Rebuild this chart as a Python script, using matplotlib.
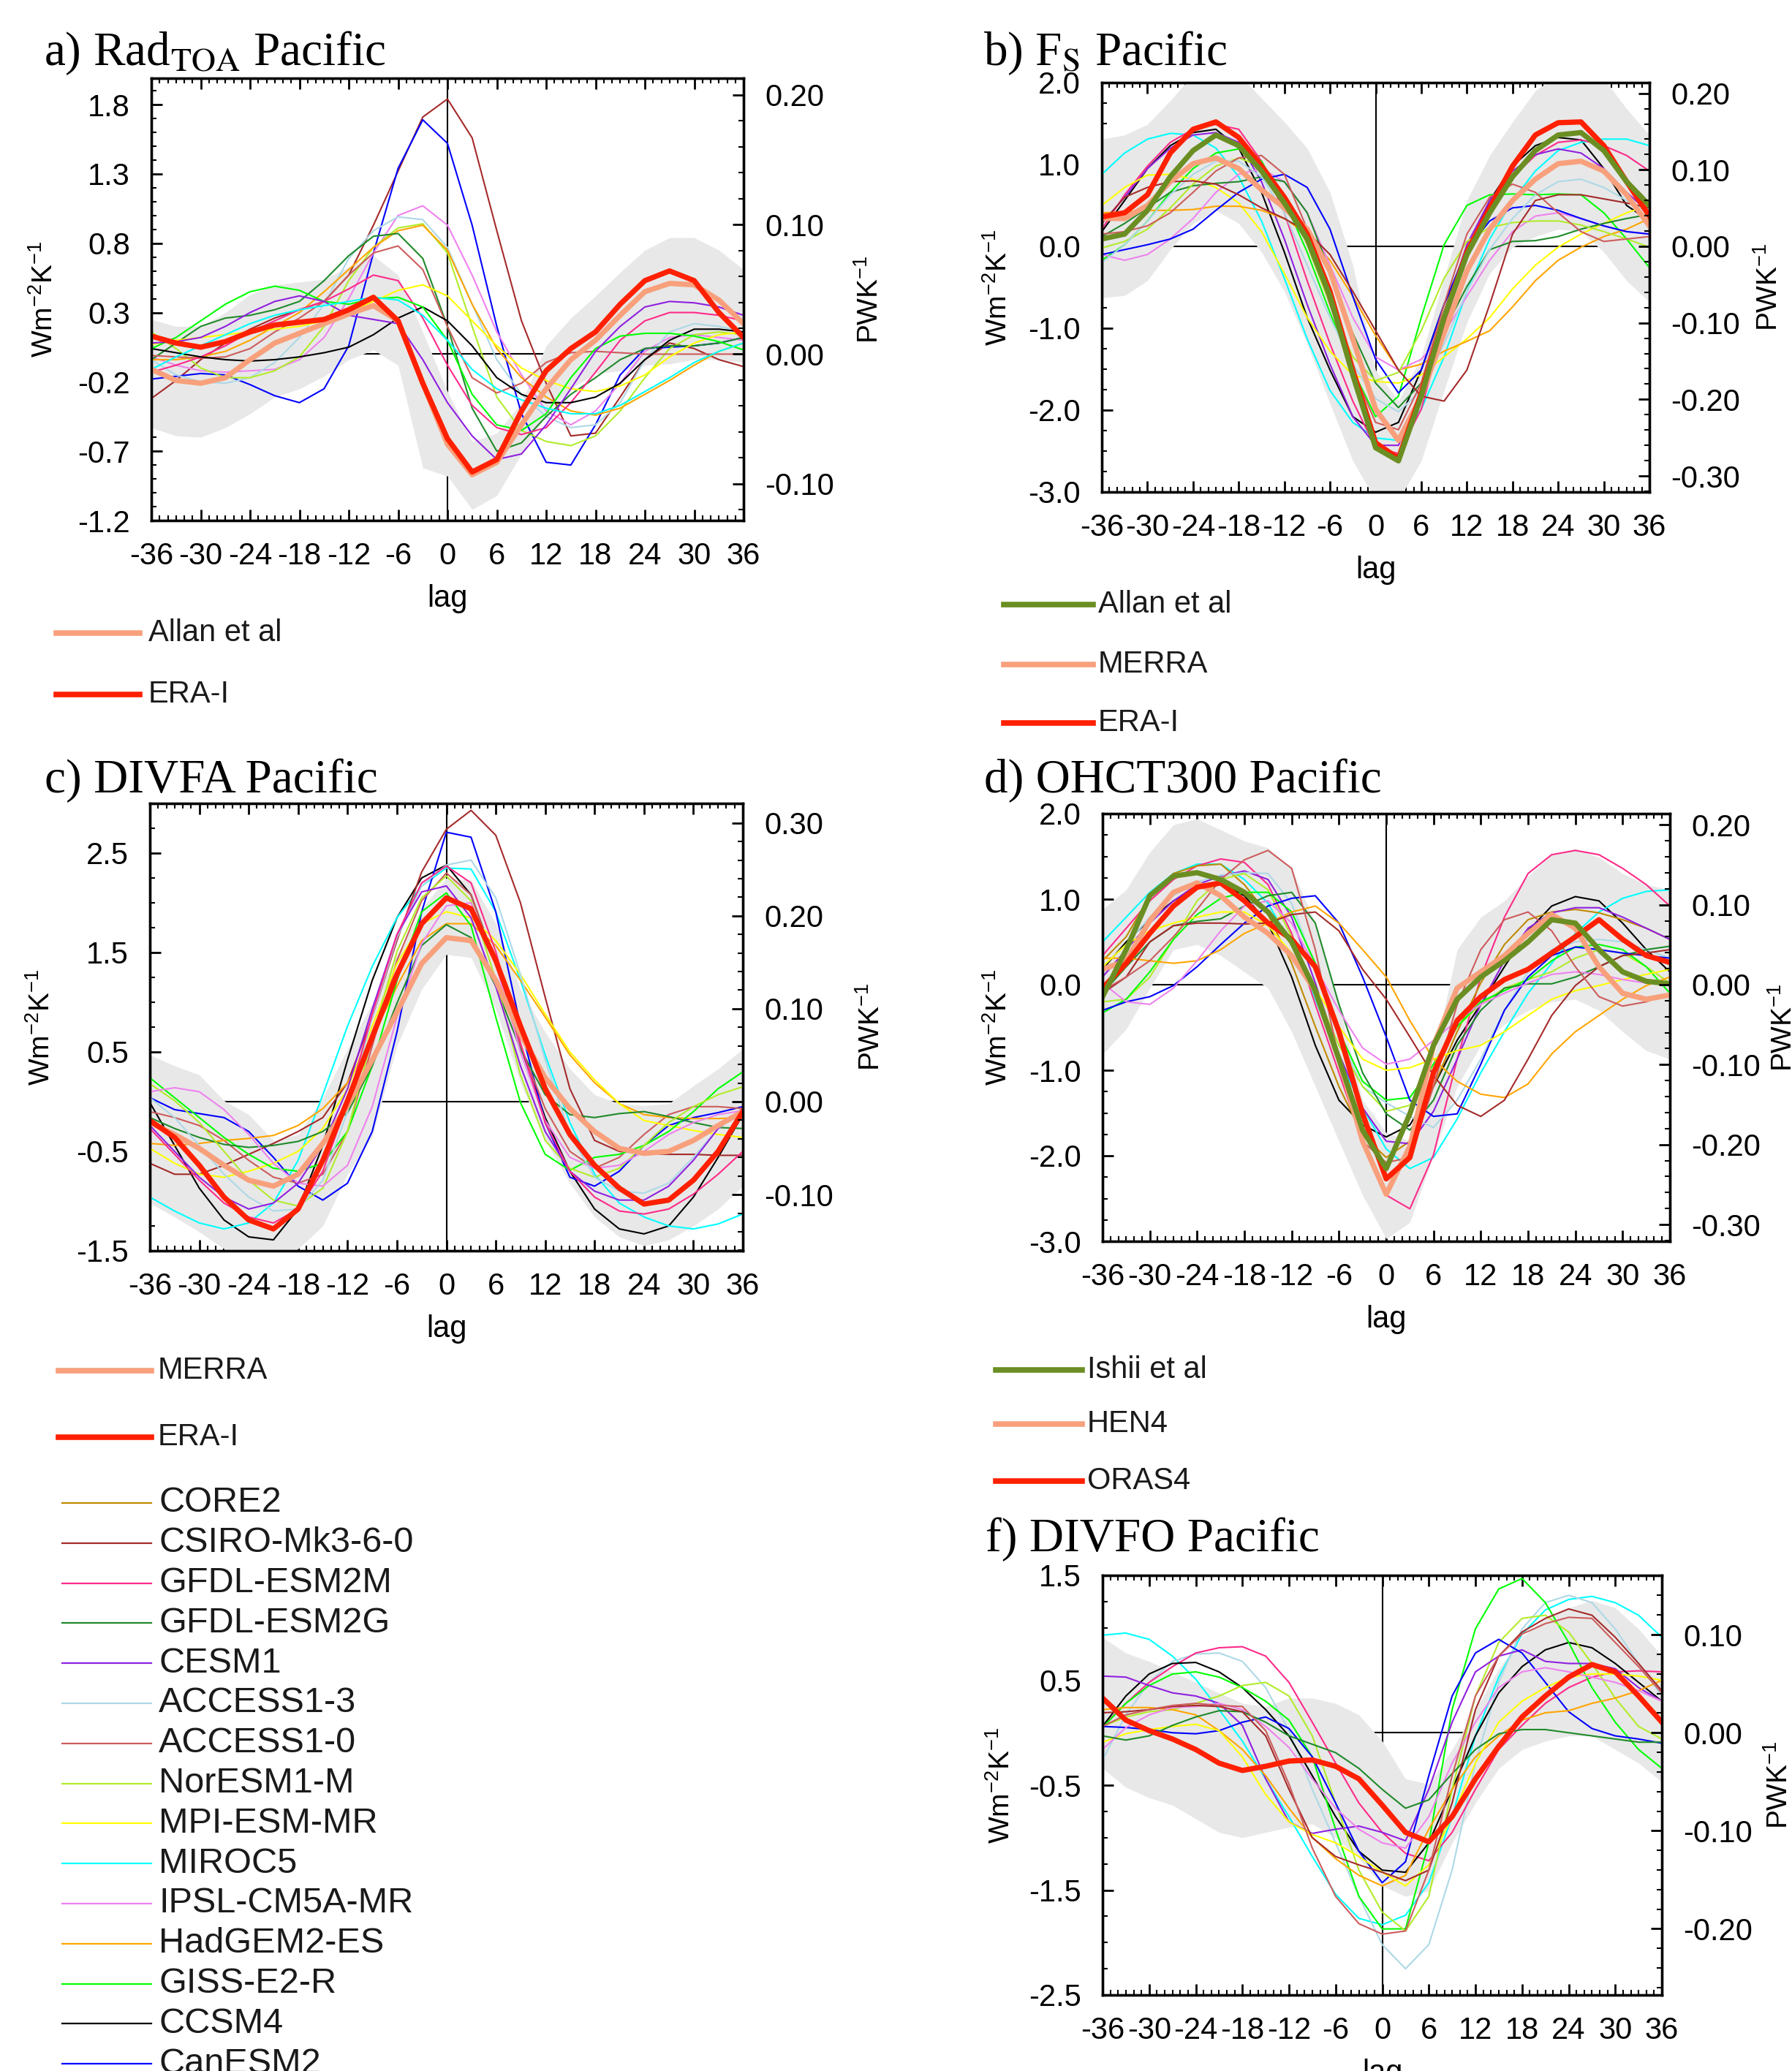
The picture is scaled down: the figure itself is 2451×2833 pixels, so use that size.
import numpy as np
import matplotlib
matplotlib.use("Agg")
import matplotlib.pyplot as plt
from matplotlib.lines import Line2D
from matplotlib.ticker import MultipleLocator, FormatStrFormatter

plt.rcParams['font.family'] = ['Liberation Sans', 'DejaVu Sans']
plt.rcParams['mathtext.fontset'] = 'custom'
plt.rcParams['mathtext.rm'] = 'Liberation Sans'
plt.rcParams['mathtext.it'] = 'Liberation Sans:italic'
plt.rcParams['mathtext.bf'] = 'Liberation Sans:bold'
plt.rcParams['axes.unicode_minus'] = False

W, H = 2451, 2833

# lag axis (months), values read every 3 months
lags = np.arange(-36, 37, 3)

model_names = ["CORE2", "CSIRO-Mk3-6-0", "GFDL-ESM2M", "GFDL-ESM2G", "CESM1",
               "ACCESS1-3", "ACCESS1-0", "NorESM1-M", "MPI-ESM-MR", "MIROC5",
               "IPSL-CM5A-MR", "HadGEM2-ES", "GISS-E2-R", "CCSM4", "CanESM2"]
model_colors = {"CORE2": "#c08a00", "CSIRO-Mk3-6-0": "#a52a2a", "GFDL-ESM2M": "#ff2a8a",
                "GFDL-ESM2G": "#1f8a2a", "CESM1": "#9020e0", "ACCESS1-3": "#add8e6",
                "ACCESS1-0": "#cd5c5c", "NorESM1-M": "#b2ec2a", "MPI-ESM-MR": "#ffff00",
                "MIROC5": "#00ffff", "IPSL-CM5A-MR": "#ee82ee", "HadGEM2-ES": "#ffa500",
                "GISS-E2-R": "#00ff00", "CCSM4": "#000000", "CanESM2": "#0000ff"}

red = "#ff2000"
salmon = "#f8a07c"
olive = "#6b8e23"
band_color = "#e8e8e8"

# ---------------- a) Rad_TOA ----------------
rad_era = [0.13,0.08,0.05,0.09,0.16,0.21,0.23,0.25,0.32,0.41,0.24,-0.21,-0.61,-0.85,-0.76,-0.41,-0.12,0.04,0.16,0.36,0.53,0.60,0.53,0.30,0.12]
rad_allan = [-0.11,-0.19,-0.21,-0.17,-0.04,0.08,0.15,0.22,0.29,0.35,0.24,-0.21,-0.65,-0.87,-0.78,-0.51,-0.25,-0.04,0.10,0.28,0.45,0.51,0.50,0.39,0.22]
rad_hi = [0.25,0.20,0.20,0.30,0.43,0.50,0.52,0.54,0.63,0.71,0.57,0.16,-0.27,-0.63,-0.57,-0.35,0.06,0.26,0.42,0.59,0.75,0.84,0.84,0.75,0.61]
rad_lo = [-0.53,-0.59,-0.60,-0.53,-0.43,-0.31,-0.25,-0.16,-0.04,0.03,-0.08,-0.82,-0.88,-1.12,-1.02,-0.72,-0.43,-0.25,-0.14,-0.12,-0.08,-0.07,-0.04,-0.04,-0.06]
rad_models = {
    "CSIRO-Mk3-6-0": [-0.32,-0.19,-0.04,0.08,0.18,0.26,0.32,0.38,0.57,0.93,1.32,1.71,1.84,1.56,0.89,0.24,-0.21,-0.59,-0.57,-0.31,-0.04,0.08,0.04,-0.04,-0.09],
    "CanESM2": [-0.18,-0.16,-0.14,-0.15,-0.22,-0.30,-0.35,-0.25,0.06,0.73,1.34,1.69,1.52,0.93,0.20,-0.43,-0.78,-0.80,-0.51,-0.15,0.04,0.05,0.06,0.08,0.12],
    "IPSL-CM5A-MR": [-0.02,-0.08,-0.12,-0.13,-0.12,-0.11,-0.04,0.12,0.40,0.73,1.0,1.07,0.93,0.57,0.16,-0.15,-0.41,-0.51,-0.41,-0.21,0.02,0.12,0.14,0.12,0.10],
    "ACCESS1-3": [-0.04,-0.15,-0.20,-0.21,-0.17,-0.06,0.12,0.36,0.69,0.89,0.99,0.97,0.77,0.36,-0.04,-0.29,-0.45,-0.53,-0.51,-0.35,-0.04,0.16,0.22,0.20,0.16],
    "NorESM1-M": [0.16,0.04,-0.10,-0.17,-0.17,-0.12,-0.02,0.20,0.53,0.77,0.91,0.94,0.73,0.20,-0.31,-0.55,-0.63,-0.66,-0.59,-0.41,-0.17,0.04,0.14,0.16,0.14],
    "HadGEM2-ES": [-0.04,-0.04,-0.02,0.02,0.10,0.20,0.30,0.45,0.61,0.77,0.89,0.93,0.75,0.36,0.04,-0.17,-0.31,-0.41,-0.44,-0.39,-0.29,-0.19,-0.08,0.02,0.08],
    "GFDL-ESM2G": [-0.04,0.08,0.20,0.26,0.28,0.32,0.38,0.53,0.71,0.85,0.87,0.69,0.20,-0.39,-0.70,-0.64,-0.45,-0.29,-0.17,-0.04,0.04,0.06,0.06,0.08,0.12],
    "ACCESS1-0": [-0.01,-0.02,-0.03,-0.02,0.04,0.16,0.26,0.38,0.57,0.73,0.78,0.61,0.20,-0.17,-0.28,-0.21,-0.06,0.01,0.02,0.01,0.0,0.0,0.0,0.0,0.0],
    "GFDL-ESM2M": [-0.13,-0.08,-0.02,0.06,0.16,0.24,0.32,0.38,0.47,0.57,0.53,0.26,-0.08,-0.37,-0.53,-0.58,-0.53,-0.35,-0.13,0.10,0.24,0.30,0.30,0.28,0.24],
    "MPI-ESM-MR": [0.07,0.10,0.12,0.14,0.16,0.18,0.20,0.24,0.30,0.38,0.46,0.50,0.42,0.24,0.06,-0.10,-0.19,-0.25,-0.27,-0.23,-0.15,-0.02,0.08,0.14,0.16],
    "CCSM4": [0.04,0.01,-0.02,-0.04,-0.05,-0.04,-0.02,0.01,0.05,0.14,0.26,0.34,0.24,0.06,-0.17,-0.29,-0.35,-0.35,-0.31,-0.21,-0.04,0.10,0.18,0.18,0.16],
    "GISS-E2-R": [0.04,0.12,0.24,0.36,0.45,0.49,0.46,0.38,0.36,0.40,0.41,0.34,0.10,-0.29,-0.51,-0.55,-0.43,-0.17,0.04,0.13,0.15,0.15,0.13,0.09,0.03],
    "CESM1": [0.08,0.09,0.12,0.20,0.30,0.38,0.42,0.38,0.28,0.25,0.22,-0.04,-0.35,-0.59,-0.76,-0.72,-0.51,-0.25,0.02,0.20,0.34,0.38,0.37,0.34,0.28],
    "MIROC5": [-0.11,-0.02,0.06,0.14,0.22,0.28,0.32,0.35,0.38,0.41,0.39,0.28,0.10,-0.11,-0.25,-0.33,-0.39,-0.43,-0.43,-0.37,-0.27,-0.17,-0.06,0.02,0.08],
}

# ---------------- b) F_S ----------------
fs_era = [0.36,0.41,0.63,1.14,1.43,1.52,1.33,0.98,0.60,0.15,-0.55,-1.51,-2.40,-2.59,-1.79,-0.87,-0.07,0.47,0.98,1.36,1.51,1.52,1.23,0.79,0.37]
fs_allan = [0.09,0.15,0.44,0.85,1.17,1.36,1.23,0.92,0.53,0.09,-0.61,-1.57,-2.46,-2.62,-1.83,-0.87,-0.10,0.41,0.85,1.17,1.36,1.39,1.17,0.79,0.50]
fs_merra = [0.34,0.34,0.50,0.79,1.01,1.08,0.95,0.69,0.47,0.21,-0.30,-1.13,-1.99,-2.37,-1.83,-1.06,-0.30,0.21,0.56,0.82,1.01,1.04,0.92,0.63,0.25]
fs_hi = [1.31,1.36,1.49,1.78,2.1,2.2,2.1,1.81,1.52,1.2,0.66,-0.23,-1.51,-1.89,-1.35,-0.39,0.56,1.11,1.52,1.9,2.1,2.15,2.05,1.68,1.36]
fs_lo = [-0.63,-0.60,-0.42,-0.04,0.28,0.44,0.28,-0.07,-0.55,-1.19,-1.92,-2.62,-3.1,-3.1,-2.62,-1.76,-0.93,-0.33,-0.01,0.12,0.21,0.18,-0.07,-0.42,-0.68]
fs_models = {
    "CCSM4": [0.18,0.56,0.95,1.23,1.39,1.43,1.2,0.66,-0.07,-0.87,-1.51,-2.08,-2.27,-2.15,-1.51,-0.71,-0.07,0.56,0.98,1.23,1.33,1.30,0.95,0.50,0.31],
    "MIROC5": [0.88,1.14,1.31,1.38,1.36,1.2,0.85,0.31,-0.39,-1.13,-1.76,-2.15,-2.34,-2.37,-1.99,-1.35,-0.55,0.09,0.56,0.92,1.17,1.27,1.31,1.31,1.23],
    "GFDL-ESM2M": [0.21,0.63,0.98,1.27,1.43,1.49,1.43,1.04,0.41,-0.42,-1.19,-1.89,-2.46,-2.53,-1.99,-0.97,-0.07,0.47,0.85,1.11,1.27,1.30,1.23,1.11,0.92],
    "CESM1": [0.28,0.60,0.95,1.2,1.36,1.39,1.27,0.79,0.09,-0.71,-1.44,-2.08,-2.43,-2.43,-1.83,-0.81,0.02,0.56,0.92,1.12,1.19,1.14,0.95,0.66,0.41],
    "GISS-E2-R": [-0.17,0.02,0.31,0.66,0.95,1.14,1.19,1.04,0.56,-0.07,-0.81,-1.51,-2.08,-1.83,-0.87,0.02,0.50,0.63,0.64,0.63,0.64,0.63,0.41,0.09,-0.26],
    "MPI-ESM-MR": [0.50,0.72,0.87,0.88,0.82,0.72,0.53,0.18,-0.33,-0.87,-1.28,-1.57,-1.65,-1.67,-1.57,-1.35,-1.13,-0.87,-0.52,-0.23,-0.01,0.15,0.28,0.41,0.50],
    "HadGEM2-ES": [0.41,0.42,0.44,0.44,0.45,0.49,0.49,0.44,0.34,0.15,-0.17,-0.61,-1.09,-1.51,-1.44,-1.28,-1.16,-1.03,-0.74,-0.42,-0.17,-0.01,0.12,0.21,0.34],
    "IPSL-CM5A-MR": [-0.10,-0.17,-0.10,0.09,0.34,0.66,0.88,0.95,0.79,0.41,-0.23,-0.87,-1.35,-1.51,-1.38,-1.06,-0.61,-0.17,0.18,0.37,0.41,0.34,0.25,0.18,0.15],
    "CanESM2": [-0.10,-0.04,0.02,0.09,0.21,0.44,0.66,0.82,0.88,0.72,0.21,-0.61,-1.38,-1.79,-1.51,-0.71,-0.04,0.31,0.47,0.50,0.44,0.34,0.25,0.18,0.15],
    "GFDL-ESM2G": [0.12,0.28,0.47,0.66,0.74,0.77,0.79,0.85,0.79,0.41,-0.30,-1.06,-1.67,-1.97,-1.67,-1.03,-0.49,-0.04,0.06,0.07,0.12,0.21,0.28,0.34,0.39],
    "NorESM1-M": [-0.02,0.06,0.21,0.47,0.76,0.98,1.08,0.98,0.63,0.02,-0.71,-1.35,-1.64,-1.54,-1.03,-0.39,0.06,0.23,0.29,0.31,0.31,0.26,0.18,0.09,-0.01],
    "ACCESS1-3": [-0.20,0.02,0.31,0.63,0.88,1.04,1.04,0.85,0.41,-0.23,-0.87,-1.44,-1.86,-2.02,-1.76,-1.19,-0.55,-0.04,0.34,0.63,0.79,0.82,0.72,0.56,0.41],
    "ACCESS1-0": [0.15,0.18,0.25,0.41,0.66,0.92,1.08,1.11,0.88,0.21,-0.71,-1.51,-2.15,-2.24,-1.67,-0.71,0.15,0.60,0.76,0.66,0.41,0.18,0.06,0.09,0.12],
    "CSIRO-Mk3-6-0": [0.28,0.60,0.72,0.79,0.80,0.76,0.63,0.47,0.34,0.18,-0.10,-0.55,-1.03,-1.51,-1.83,-1.89,-1.51,-0.71,0.15,0.56,0.63,0.63,0.58,0.53,0.47],
}

# ---------------- c) DIVFA ----------------
divfa_era = [-0.19,-0.36,-0.64,-0.96,-1.19,-1.28,-1.08,-0.59,0.01,0.65,1.28,1.79,2.05,1.94,1.42,0.76,0.13,-0.33,-0.64,-0.87,-1.03,-0.99,-0.79,-0.50,-0.10]
divfa_merra = [-0.21,-0.33,-0.47,-0.64,-0.79,-0.85,-0.73,-0.42,-0.04,0.42,0.90,1.39,1.65,1.62,1.22,0.68,0.24,-0.07,-0.30,-0.47,-0.52,-0.50,-0.39,-0.24,-0.10]
divfa_hi = [0.47,0.36,0.27,0.01,-0.13,-0.39,-0.33,0.04,0.53,0.99,1.48,1.94,2.25,2.23,1.79,1.13,0.70,0.33,0.07,-0.02,-0.04,-0.02,0.16,0.33,0.53]
divfa_lo = [-1.02,-1.16,-1.31,-1.48,-1.6,-1.6,-1.48,-1.25,-0.73,-0.35,0.56,1.13,1.48,1.45,0.93,0.19,-0.39,-0.82,-1.16,-1.36,-1.45,-1.39,-1.25,-1.08,-0.85]
divfa_models = {
    "CCSM4": [-0.01,-0.44,-0.87,-1.19,-1.36,-1.39,-1.08,-0.44,0.42,1.22,1.85,2.25,2.38,2.08,1.39,0.56,-0.16,-0.70,-1.08,-1.28,-1.33,-1.25,-0.96,-0.56,-0.13],
    "MIROC5": [-0.96,-1.10,-1.22,-1.28,-1.22,-1.02,-0.59,0.07,0.76,1.36,1.85,2.17,2.35,2.34,1.91,1.22,0.47,-0.21,-0.73,-1.02,-1.16,-1.25,-1.28,-1.23,-1.13],
    "CanESM2": [0.04,-0.08,-0.12,-0.16,-0.30,-0.56,-0.85,-0.99,-0.82,-0.30,0.70,1.91,2.71,2.66,1.91,0.76,-0.21,-0.76,-0.85,-0.70,-0.44,-0.24,-0.16,-0.11,-0.05],
    "CSIRO-Mk3-6-0": [-0.62,-0.73,-0.73,-0.64,-0.53,-0.42,-0.30,-0.16,0.19,0.85,1.62,2.31,2.74,2.93,2.68,2.0,1.05,0.13,-0.39,-0.50,-0.52,-0.53,-0.53,-0.54,-0.54],
    "ACCESS1-0": [-0.10,-0.16,-0.24,-0.39,-0.59,-0.76,-0.82,-0.73,-0.30,0.56,1.42,2.02,2.30,2.08,1.39,0.56,-0.07,-0.50,-0.67,-0.56,-0.33,-0.13,-0.05,-0.05,-0.07],
    "HadGEM2-ES": [-0.42,-0.44,-0.42,-0.39,-0.37,-0.34,-0.24,-0.07,0.19,0.65,1.16,1.62,1.79,1.79,1.57,1.22,0.85,0.47,0.19,-0.02,-0.13,-0.16,-0.17,-0.17,-0.16],
    "MPI-ESM-MR": [-0.47,-0.62,-0.73,-0.76,-0.70,-0.62,-0.50,-0.27,0.13,0.76,1.39,1.79,1.91,1.85,1.62,1.28,0.88,0.50,0.22,-0.02,-0.19,-0.24,-0.29,-0.33,-0.36],
    "GISS-E2-R": [0.24,0.04,-0.16,-0.36,-0.53,-0.67,-0.70,-0.62,-0.30,0.36,1.22,1.91,2.10,1.77,0.85,-0.01,-0.53,-0.69,-0.56,-0.53,-0.44,-0.30,-0.10,0.13,0.30],
    "GFDL-ESM2G": [-0.16,-0.27,-0.36,-0.43,-0.46,-0.44,-0.40,-0.30,-0.11,0.36,0.99,1.57,1.78,1.65,1.16,0.53,0.07,-0.13,-0.16,-0.12,-0.10,-0.15,-0.21,-0.26,-0.27],
    "NorESM1-M": [0.18,0.01,-0.21,-0.50,-0.79,-0.99,-1.05,-0.87,-0.30,0.65,1.51,2.05,2.27,2.02,1.22,0.27,-0.39,-0.67,-0.76,-0.67,-0.44,-0.21,-0.05,0.07,0.15],
    "IPSL-CM5A-MR": [0.10,0.14,0.10,-0.08,-0.33,-0.62,-0.82,-0.85,-0.64,-0.05,0.85,1.59,1.97,2.0,1.39,0.50,-0.19,-0.56,-0.67,-0.64,-0.50,-0.33,-0.21,-0.13,-0.09],
    "ACCESS1-3": [0.04,-0.16,-0.44,-0.73,-0.96,-1.10,-1.08,-0.79,-0.10,0.85,1.65,2.17,2.38,2.43,2.05,1.28,0.42,-0.33,-0.76,-0.90,-0.92,-0.82,-0.56,-0.27,-0.10],
    "CESM1": [-0.24,-0.50,-0.76,-0.96,-1.08,-1.02,-0.82,-0.44,0.13,0.93,1.68,2.11,2.17,1.85,1.16,0.36,-0.30,-0.70,-0.90,-0.99,-0.99,-0.85,-0.59,-0.27,-0.07],
    "GFDL-ESM2M": [-0.27,-0.53,-0.79,-1.02,-1.16,-1.22,-1.08,-0.70,-0.01,0.88,1.68,2.20,2.37,2.20,1.51,0.59,-0.21,-0.70,-0.96,-1.10,-1.13,-1.08,-0.93,-0.73,-0.50],
}

# ---------------- d) OHCT300 ----------------
ohc_oras4 = [-0.04,0.25,0.60,0.92,1.14,1.19,0.98,0.72,0.53,0.21,-0.55,-1.51,-2.27,-2.02,-1.03,-0.42,-0.14,0.06,0.18,0.37,0.56,0.76,0.53,0.34,0.26]
ohc_ishii = [-0.14,0.41,1.04,1.27,1.31,1.23,1.08,0.85,0.50,-0.07,-0.87,-1.70,-2.15,-1.51,-0.71,-0.17,0.09,0.28,0.50,0.76,0.72,0.41,0.15,0.04,0.01]
ohc_hen4 = [0.18,0.28,0.75,1.08,1.19,1.04,0.79,0.60,0.34,-0.07,-0.87,-1.83,-2.45,-1.89,-0.71,-0.04,0.15,0.34,0.60,0.82,0.66,0.21,-0.10,-0.17,-0.12]
ohc_hi = [0.88,1.11,1.55,1.87,1.94,1.81,1.68,1.60,1.36,0.72,-0.23,-1.35,-1.73,-1.83,-0.87,0.41,0.79,0.98,1.27,1.52,1.59,1.49,1.30,1.17,1.11]
ohc_lo = [-0.81,-0.52,-0.04,0.41,0.47,0.34,0.15,-0.04,-0.55,-1.19,-1.83,-2.46,-2.97,-2.78,-1.99,-1.19,-0.71,-0.46,-0.30,-0.20,-0.17,-0.30,-0.55,-0.77,-0.87]
ohc_models = {
    "CCSM4": [0.18,0.50,0.76,0.98,1.14,1.19,1.04,0.72,0.09,-0.71,-1.35,-1.64,-1.78,-1.64,-1.19,-0.65,-0.23,0.21,0.63,0.92,1.03,0.98,0.72,0.41,0.15],
    "MIROC5": [0.50,0.79,1.08,1.30,1.41,1.41,1.23,0.95,0.47,-0.17,-0.87,-1.44,-1.92,-2.15,-2.02,-1.57,-1.03,-0.55,-0.10,0.25,0.60,0.85,1.01,1.09,1.11],
    "GFDL-ESM2M": [0.34,0.66,0.98,1.23,1.39,1.47,1.43,1.17,0.60,-0.23,-1.03,-1.83,-2.46,-2.62,-1.99,-0.87,0.09,0.79,1.30,1.52,1.57,1.52,1.36,1.17,0.92],
    "CORE2": [0.28,0.56,1.04,1.30,1.39,1.41,1.17,0.82,0.25,-0.49,-1.19,-1.76,-2.02,-1.83,-1.19,-0.55,0.02,0.47,0.76,0.85,0.88,0.84,0.76,0.66,0.53],
    "CESM1": [0.09,0.41,0.72,0.98,1.17,1.27,1.33,1.23,0.79,0.02,-0.81,-1.44,-1.83,-1.86,-1.48,-0.87,-0.23,0.28,0.66,0.84,0.90,0.90,0.79,0.66,0.53],
    "ACCESS1-3": [0.21,0.47,0.79,1.04,1.2,1.28,1.31,1.30,0.95,0.21,-0.61,-1.19,-1.38,-1.54,-1.67,-1.35,-0.87,-0.30,0.15,0.41,0.50,0.53,0.50,0.41,0.31],
    "NorESM1-M": [-0.20,-0.17,0.09,0.53,0.98,1.23,1.30,1.11,0.56,-0.07,-0.71,-1.19,-1.48,-1.41,-0.93,-0.49,-0.23,-0.04,0.06,0.15,0.31,0.41,0.37,0.21,0.02],
    "GISS-E2-R": [-0.33,-0.17,0.15,0.53,0.82,1.01,1.08,1.08,0.85,0.25,-0.55,-1.13,-1.35,-1.32,-0.93,-0.49,-0.20,-0.07,0.06,0.28,0.44,0.47,0.41,0.21,-0.10],
    "GFDL-ESM2G": [-0.10,0.21,0.50,0.69,0.74,0.77,0.92,1.04,1.08,0.72,-0.23,-1.03,-1.51,-1.70,-1.35,-0.71,-0.30,-0.04,0.01,0.01,0.09,0.21,0.34,0.41,0.45],
    "CanESM2": [-0.30,-0.20,-0.14,-0.01,0.21,0.47,0.72,0.92,1.01,1.04,0.72,0.09,-0.61,-1.35,-1.54,-1.51,-0.93,-0.30,0.09,0.34,0.44,0.41,0.37,0.34,0.31],
    "HadGEM2-ES": [0.31,0.31,0.28,0.25,0.28,0.41,0.60,0.72,0.85,0.92,0.72,0.41,0.09,-0.42,-0.87,-1.13,-1.28,-1.32,-1.16,-0.81,-0.55,-0.36,-0.17,-0.01,0.09],
    "MPI-ESM-MR": [0.21,0.47,0.63,0.72,0.79,0.85,0.85,0.69,0.37,-0.04,-0.49,-0.87,-1.0,-0.97,-0.87,-0.77,-0.71,-0.55,-0.36,-0.17,-0.07,-0.01,0.06,0.12,0.18],
    "IPSL-CM5A-MR": [0.02,-0.20,-0.23,-0.04,0.28,0.63,0.92,0.98,0.72,0.21,-0.30,-0.74,-0.93,-0.87,-0.65,-0.42,-0.23,-0.10,0.02,0.12,0.15,0.12,0.06,0.02,0.01],
    "CSIRO-Mk3-6-0": [-0.10,0.09,0.50,0.69,0.72,0.72,0.71,0.72,0.82,0.85,0.63,0.18,-0.17,-0.61,-1.06,-1.41,-1.54,-1.35,-0.87,-0.36,-0.01,0.21,0.34,0.37,0.41],
    "ACCESS1-0": [-0.07,0.09,0.28,0.56,0.88,1.23,1.46,1.57,1.36,0.41,-0.87,-1.83,-2.08,-2.02,-1.19,-0.23,0.41,0.76,0.85,0.63,0.21,-0.14,-0.25,-0.20,-0.10],
}

# ---------------- f) DIVFO ----------------
divfo_era = [0.33,0.12,0.02,-0.06,-0.16,-0.29,-0.36,-0.32,-0.27,-0.26,-0.32,-0.44,-0.69,-0.95,-1.04,-0.80,-0.44,-0.13,0.15,0.35,0.53,0.65,0.58,0.35,0.10]
divfo_hi = [0.91,0.76,0.68,0.58,0.48,0.38,0.28,0.25,0.33,0.33,0.28,0.17,-0.08,-0.44,-0.49,-0.16,0.22,0.61,0.91,1.09,1.19,1.26,1.19,0.99,0.73]
divfo_lo = [-0.34,-0.52,-0.62,-0.69,-0.82,-0.95,-1.0,-0.95,-0.90,-0.87,-1.0,-1.20,-1.46,-1.56,-1.51,-1.05,-0.67,-0.34,-0.16,-0.08,-0.03,-0.03,-0.16,-0.29,-0.47]
divfo_models = {
    "MIROC5": [0.93,0.95,0.89,0.73,0.51,0.22,-0.08,-0.44,-0.80,-1.18,-1.54,-1.77,-1.83,-1.74,-1.43,-0.80,-0.03,0.53,0.94,1.17,1.27,1.30,1.24,1.12,0.91],
    "ACCESS1-3": [-0.26,0.17,0.48,0.68,0.75,0.76,0.68,0.43,0.02,-0.54,-1.05,-1.56,-2.02,-2.25,-2.02,-1.31,-0.29,0.48,0.99,1.24,1.31,1.24,0.99,0.66,0.35],
    "GFDL-ESM2M": [0.06,0.28,0.48,0.63,0.76,0.81,0.82,0.73,0.48,0.10,-0.29,-0.67,-0.95,-1.15,-1.22,-0.95,-0.54,-0.16,0.07,0.28,0.43,0.53,0.58,0.59,0.58],
    "CCSM4": [0.06,0.35,0.56,0.66,0.67,0.58,0.43,0.22,-0.03,-0.41,-0.80,-1.13,-1.31,-1.33,-1.05,-0.54,-0.03,0.38,0.63,0.79,0.86,0.81,0.66,0.48,0.30],
    "GISS-E2-R": [0.05,0.28,0.45,0.56,0.58,0.53,0.43,0.30,0.12,-0.23,-0.92,-1.56,-1.87,-1.87,-1.05,0.22,0.99,1.37,1.47,1.24,0.86,0.43,0.10,-0.16,-0.34],
    "NorESM1-M": [0.06,0.15,0.20,0.22,0.28,0.35,0.45,0.48,0.35,-0.03,-0.67,-1.31,-1.71,-1.89,-1.56,-0.54,0.35,0.86,1.09,1.12,0.96,0.66,0.33,0.06,-0.06],
    "CESM1": [0.54,0.53,0.45,0.38,0.35,0.28,0.07,-0.44,-0.85,-0.96,-0.92,-0.89,-0.95,-1.03,-0.54,0.10,0.58,0.73,0.79,0.68,0.66,0.66,0.61,0.43,0.30],
    "CanESM2": [0.06,0.05,0.03,0.0,-0.01,0.02,0.10,0.15,0.04,-0.23,-0.67,-1.13,-1.43,-1.23,-0.41,0.35,0.76,0.89,0.76,0.48,0.20,0.04,-0.03,-0.06,-0.10],
    "HadGEM2-ES": [0.22,0.24,0.24,0.22,0.17,0.02,-0.16,-0.41,-0.72,-1.0,-1.20,-1.36,-1.46,-1.36,-0.92,-0.54,-0.23,-0.03,0.12,0.19,0.21,0.28,0.33,0.40,0.50],
    "MPI-ESM-MR": [-0.09,-0.01,0.03,0.06,0.08,0.02,-0.23,-0.59,-0.85,-0.97,-1.05,-1.18,-1.33,-1.46,-1.26,-0.80,-0.29,0.10,0.30,0.43,0.53,0.56,0.56,0.54,0.50],
    "IPSL-CM5A-MR": [-0.16,0.05,0.17,0.24,0.25,0.28,0.22,0.06,-0.14,-0.44,-0.72,-0.92,-1.05,-1.10,-0.80,-0.29,0.10,0.43,0.58,0.62,0.58,0.53,0.48,0.40,0.30],
    "GFDL-ESM2G": [-0.03,-0.07,-0.03,0.07,0.15,0.21,0.20,0.10,-0.03,-0.11,-0.19,-0.34,-0.54,-0.72,-0.64,-0.39,-0.16,-0.01,0.03,0.03,0.0,-0.03,-0.06,-0.09,-0.09],
    "CSIRO-Mk3-6-0": [0.19,0.20,0.22,0.25,0.26,0.25,0.20,-0.03,-0.54,-1.0,-1.18,-1.26,-1.33,-1.41,-1.31,-0.67,0.22,0.73,0.96,1.09,1.18,1.12,0.91,0.66,0.40],
    "ACCESS1-0": [0.06,0.17,0.22,0.26,0.28,0.26,0.25,0.02,-0.49,-1.10,-1.56,-1.82,-1.92,-1.89,-1.31,-0.41,0.35,0.73,0.94,1.04,1.10,1.09,0.86,0.63,0.38],
}

K = 0.107   # W m-2 -> PW conversion for the right axis

fig = plt.figure(figsize=(W / 100, H / 100), dpi=100)


def fx(px):
    return px / W


def fy(py):
    return 1 - py / H


def panel(box, ylim, ymaj, ymin, models, obs, hi, lo, title, tpos, lx, rx):
    l, t, r, b = box
    ax = fig.add_axes([fx(l), fy(b), (r - l) / W, (b - t) / H])
    ax.axhline(0, color='k', lw=1.5, zorder=1)
    ax.axvline(0, color='k', lw=1.5, zorder=1)
    ax.fill_between(lags, lo, hi, color=band_color, lw=0, zorder=2)
    for name, vals in models.items():
        ax.plot(lags, vals, color=model_colors[name], lw=1.5, zorder=3,
                solid_joinstyle='round')
    for vals, col in obs:
        ax.plot(lags, vals, color=col, lw=5.2, zorder=4, solid_joinstyle='round')
    ax.set_xlim(-36, 36)
    ax.set_ylim(*ylim)
    ax.xaxis.set_major_locator(MultipleLocator(6))
    ax.xaxis.set_minor_locator(MultipleLocator(1))
    ax.yaxis.set_major_locator(MultipleLocator(ymaj, offset=ylim[0]))
    ax.yaxis.set_minor_locator(MultipleLocator(ymin, offset=ylim[0]))
    ax.yaxis.set_major_formatter(FormatStrFormatter('%.1f'))
    ax.tick_params(which='both', direction='in', top=True, bottom=True,
                   left=True, right=False, labelsize=30)
    ax.tick_params(which='major', length=11, width=2)
    ax.tick_params(which='minor', length=5, width=1.5)
    ax.tick_params(axis='x', pad=21)
    ax.tick_params(axis='y', pad=21)
    for s in ax.spines.values():
        s.set_linewidth(2.4)
    ax.set_xlabel('lag', fontsize=30, labelpad=13)

    tw = ax.twinx()
    tw.set_ylim(ylim[0] * K, ylim[1] * K)
    tw.yaxis.set_major_locator(MultipleLocator(0.1))
    tw.yaxis.set_minor_locator(MultipleLocator(0.02))
    tw.yaxis.set_major_formatter(FormatStrFormatter('%.2f'))
    tw.tick_params(which='both', direction='in', right=True, left=False,
                   labelsize=30, pad=21)
    tw.tick_params(which='major', length=11, width=2)
    tw.tick_params(which='minor', length=5, width=1.5)
    for s in tw.spines.values():
        s.set_linewidth(2.4)

    ymid = (t + b) / 2
    fig.text(fx(lx), fy(ymid), 'Wm$^{-2}$K$^{-1}$', rotation=90,
             ha='center', va='center', fontsize=28)
    fig.text(fx(rx), fy(ymid), 'PWK$^{-1}$', rotation=90,
             ha='center', va='center', fontsize=28)
    fig.text(fx(tpos[0]), fy(tpos[1]), title, ha='left', va='baseline',
             fontsize=47, fontfamily='Liberation Serif', math_fontfamily='stix')
    return ax


def legend_rows(x0, x1, xt, rows, lw, fs):
    for label, col, y in rows:
        fig.add_artist(Line2D([fx(x0), fx(x1)], [fy(y), fy(y)], color=col,
                              lw=lw, transform=fig.transFigure))
        fig.text(fx(xt), fy(y), label, ha='left', va='center',
                 fontsize=fs, color='#1a1a1a')


panel((207, 107, 1017, 712), (-1.2, 1.99), 0.5, 0.1, rad_models,
      [(rad_allan, salmon), (rad_era, red)], rad_hi, rad_lo,
      'a) Rad$_{\\mathrm{TOA}}$ Pacific', (60, 89), 61, 1190)
panel((1507, 113, 2256, 673), (-3.0, 2.0), 1.0, 0.25, fs_models,
      [(fs_merra, salmon), (fs_era, red), (fs_allan, olive)], fs_hi, fs_lo,
      'b) F$_{\\mathrm{S}}$ Pacific', (1345, 89), 1366, 2420)
panel((205, 1099, 1016, 1711), (-1.5, 3.0), 1.0, 0.25, divfa_models,
      [(divfa_merra, salmon), (divfa_era, red)], divfa_hi, divfa_lo,
      'c) DIVFA Pacific', (61, 1084), 57, 1192)
panel((1508, 1113, 2284, 1698), (-3.0, 2.0), 1.0, 0.25, ohc_models,
      [(ohc_hen4, salmon), (ohc_oras4, red), (ohc_ishii, olive)], ohc_hi, ohc_lo,
      'd) OHCT300 Pacific', (1346, 1084), 1366, 2440)
panel((1508, 2155, 2273, 2729), (-2.5, 1.5), 1.0, 0.25, divfo_models,
      [(divfo_era, red)], divfo_hi, divfo_lo,
      'f) DIVFO Pacific', (1348, 2122), 1370, 2434)

# observation legends
legend_rows(77, 191, 203, [("Allan et al", salmon, 866), ("ERA-I", red, 950)], 5.5, 30)
legend_rows(1373, 1495, 1502, [("Allan et al", olive, 827), ("MERRA", salmon, 909),
                               ("ERA-I", red, 989)], 5.5, 30)
legend_rows(80, 207, 216, [("MERRA", salmon, 1875), ("ERA-I", red, 1966)], 5.5, 30)
legend_rows(1362, 1480, 1487, [("Ishii et al", olive, 1874), ("HEN4", salmon, 1948),
                               ("ORAS4", red, 2026)], 5.5, 30)

# model legend
model_rows = [(n, model_colors[n], 2056 + i * 54.8) for i, n in enumerate(model_names)]
legend_rows(85, 207, 217, model_rows, 1.6, 35)

fig.savefig('out.png', dpi=100)
